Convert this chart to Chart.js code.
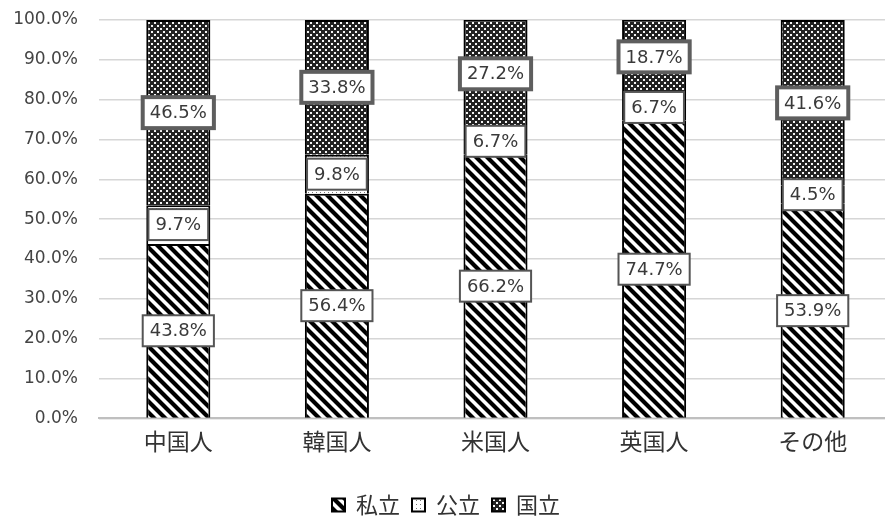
<html>
<head>
<title>国籍別 私立・公立・国立</title>
<script src="https://cdn.jsdelivr.net/npm/chart.js@4/dist/chart.umd.min.js"></script>
<style>
body { margin: 0; background: #fff; overflow: hidden; }
#wrap { width: 892px; height: 520px; }
</style>
</head>
<body>
<div id="wrap"><canvas id="myChart" width="892" height="520"></canvas></div>
<script>
var categories = [ '中国人', '韓国人', '米国人', '英国人', 'その他' ];
var seriesNames = [ '私立', '公立', '国立' ];
var shiritsu = [ 43.8, 56.4, 66.2, 74.7, 53.9 ];
var kouritsu = [ 9.7, 9.8, 6.7, 6.7, 4.5 ];
var kokuritsu = [ 46.5, 33.8, 27.2, 18.7, 41.6 ];
var yTicks = [ 0, 10, 20, 30, 40, 50, 60, 70, 80, 90, 100 ];

var FONT = '"DejaVu Sans", "Noto Sans CJK JP", sans-serif';
var JFONT = '"Noto Sans CJK JP", sans-serif';

//. 斜線パターン（私立）
function makeStripe(){
  var c = document.createElement( 'canvas' );
  c.width = 11; c.height = 11;
  var g = c.getContext( '2d' );
  g.fillStyle = '#fff';
  g.fillRect( 0, 0, 11, 11 );
  g.strokeStyle = '#000';
  g.lineWidth = 4.2;
  g.beginPath();
  g.moveTo( -5, -5 ); g.lineTo( 16, 16 );
  g.moveTo( -5, 6 ); g.lineTo( 6, 17 );
  g.moveTo( 6, -5 ); g.lineTo( 17, 6 );
  g.stroke();
  return g.createPattern( c, 'repeat' );
}
//. 点パターン（公立）
function makeDots(){
  var c = document.createElement( 'canvas' );
  c.width = 4; c.height = 4;
  var g = c.getContext( '2d' );
  g.fillStyle = '#fff';
  g.fillRect( 0, 0, 4, 4 );
  g.fillStyle = '#777';
  g.fillRect( 0, 0, 1, 1 );
  return g.createPattern( c, 'repeat' );
}
//. 格子パターン（国立）
function makeCross(){
  var c = document.createElement( 'canvas' );
  c.width = 6; c.height = 6;
  var g = c.getContext( '2d' );
  g.fillStyle = '#222';
  g.fillRect( 0, 0, 6, 6 );
  g.fillStyle = '#f4f4f4';
  g.fillRect( 1, 1, 2, 2 );
  g.fillRect( 4, 4, 2, 2 );
  return g.createPattern( c, 'repeat' );
}

//. 各セグメントの中央に値ラベルを描く
var labelPlugin = {
  id: 'segLabels',
  afterDatasetsDraw: function( chart ){
    var ctx = chart.ctx;
    ctx.save();
    ctx.font = '18px ' + FONT;
    ctx.textAlign = 'center';
    ctx.textBaseline = 'middle';
    chart.data.datasets.forEach( function( ds, di ){
      var meta = chart.getDatasetMeta( di );
      meta.data.forEach( function( bar, i ){
        var cx = bar.x;
        var cy = ( bar.y + bar.base ) / 2;
        var txt = ds.data[i].toFixed( 1 ) + '%';
        var w = ctx.measureText( txt ).width + 14;
        var h = 31;
        ctx.fillStyle = '#fff';
        ctx.fillRect( cx - w / 2, cy - h / 2, w, h );
        if( di == 2 ){
          ctx.lineWidth = 4;
          ctx.strokeStyle = '#5e5e5e';
        }else{
          ctx.lineWidth = 2;
          ctx.strokeStyle = '#555';
        }
        ctx.strokeRect( cx - w / 2, cy - h / 2, w, h );
        ctx.fillStyle = '#3a3a3a';
        ctx.fillText( txt, cx, cy + 1 );
      });
    });
    ctx.restore();
  }
};

var ctx = document.getElementById( 'myChart' ).getContext( '2d' );
var fills = [ makeStripe(), makeDots(), makeCross() ];
var values = [ shiritsu, kouritsu, kokuritsu ];
var datasets = [];
for( var i = 0; i < 3; i ++ ){
  datasets.push({
    label: seriesNames[i],
    data: values[i],
    backgroundColor: fills[i],
    borderColor: '#000',
    borderWidth: 2,
    categoryPercentage: 1.0,
    barPercentage: 0.404
  });
}

var myChart = new Chart( ctx, {
  type: 'bar',
  data: { labels: categories, datasets: datasets },
  options: {
    responsive: false,
    animation: false,
    layout: { padding: { top: 20, right: 0, bottom: -6, left: 0 } },
    plugins: {
      tooltip: { enabled: false },
      legend: {
        position: 'bottom',
        labels: {
          boxWidth: 13, boxHeight: 13,
          padding: 12,
          color: '#333',
          font: { size: 22, family: JFONT }
        }
      }
    },
    scales: {
      x: {
        stacked: true,
        grid: { display: false, drawTicks: false },
        border: { color: '#bfbfbf', width: 2 },
        afterFit: function( s ){ s.height += 18; },
        ticks: { color: '#333', padding: 9, font: { size: 23, family: JFONT } }
      },
      y: {
        stacked: true,
        min: 0, max: 100,
        afterFit: function( s ){ s.width = 99; s.paddingTop = 0; },
        afterBuildTicks: function( s ){
          s.ticks = yTicks.map( function( v ){ return { value: v }; } );
        },
        grid: { color: '#d6d6d6', lineWidth: 1.5, drawTicks: false },
        border: { display: false },
        ticks: {
          color: '#444',
          padding: 21,
          font: { size: 17, family: FONT },
          callback: function( v ){ return v.toFixed( 1 ) + '%'; }
        }
      }
    }
  },
  plugins: [ labelPlugin ]
});
</script>
</body>
</html>
